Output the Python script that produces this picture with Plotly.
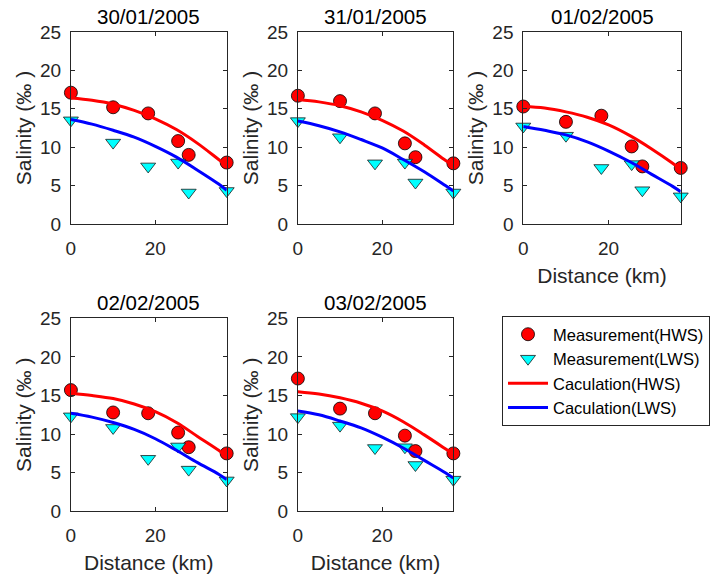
import plotly.graph_objects as go

# ---------------- data ----------------
dates = ["30/01/2005", "31/01/2005", "01/02/2005", "02/02/2005", "03/02/2005"]
x_meas = [0, 10.0, 18.3, 25.4, 27.9, 36.9]

hws_meas = [
    [17.1, 15.2, 14.4, 10.8, 9.0, 8.0],
    [16.7, 16.0, 14.4, 10.5, 8.7, 7.9],
    [15.3, 13.3, 14.1, 10.1, 7.5, 7.3],
    [15.7, 12.8, 12.7, 10.2, 8.3, 7.5],
    [17.2, 13.3, 12.7, 9.8, 7.8, 7.5],
]
lws_meas = [
    [13.5, 10.6, 7.5, 8.0, 4.1, 4.3],
    [13.4, 11.3, 7.9, 8.0, 5.4, 4.1],
    [12.7, 11.5, 7.3, 7.8, 4.4, 3.6],
    [12.3, 10.8, 6.8, 8.4, 5.4, 4.0],
    [12.2, 11.1, 8.2, 8.3, 6.0, 4.1],
]

x_calc = [0, 5, 10, 15, 20, 25, 30, 35, 36.9]
hws_calc = [
    [16.4, 16.1, 15.6, 14.8, 13.7, 12.3, 10.5, 8.4, 7.6],
    [16.2, 15.9, 15.4, 14.6, 13.5, 12.1, 10.3, 8.3, 7.6],
    [15.3, 15.1, 14.6, 13.9, 12.9, 11.5, 9.8, 7.9, 7.1],
    [15.3, 15.0, 14.6, 13.9, 12.9, 11.5, 9.7, 7.9, 7.1],
    [15.5, 15.2, 14.7, 14.0, 13.0, 11.6, 9.9, 8.1, 7.4],
]
lws_calc = [
    [13.6, 13.0, 12.2, 11.3, 10.1, 8.7, 7.0, 5.2, 4.4],
    [13.4, 12.8, 12.0, 11.0, 9.9, 8.4, 6.8, 5.0, 4.3],
    [12.7, 12.2, 11.6, 10.7, 9.5, 8.1, 6.5, 4.9, 4.2],
    [12.7, 12.2, 11.5, 10.6, 9.4, 7.9, 6.3, 4.8, 4.1],
    [13.0, 12.5, 11.7, 10.8, 9.6, 8.2, 6.6, 5.0, 4.3],
]

x_ticks = [0, 20]
y_ticks = [0, 5, 10, 15, 20, 25]
x_range = [0, 36.9]
y_range = [0, 25]
names = ["Measurement(HWS)", "Measurement(LWS)", "Caculation(HWS)", "Caculation(LWS)"]
show_xlabel = [False, False, True, True, True]

# ---------------- layout geometry (page pixels) ----------------
W, H = 710, 574
OFF = 0  # body margin removed by post_script
boxes = [  # left, right, top, bottom (page pixels)
    (71, 227, 32, 224),
    (298.3, 454, 32, 224),
    (524, 681.7, 32, 224),
    (71, 227, 318.3, 511.3),
    (298.3, 454, 318.3, 511.3),
]


def px(v):
    return (v - OFF) / W


def py(v):
    return 1 - (v - OFF) / H


FONT = "Liberation Sans, Arial, Helvetica, sans-serif"
TXT = "#262626"

fig = go.Figure()
layout = dict(
    width=W, height=H,
    margin=dict(l=0, r=0, t=0, b=0),
    paper_bgcolor="white", plot_bgcolor="white",
    font=dict(family=FONT, color=TXT, size=19),
    showlegend=True,
    legend=dict(
        x=px(502.7), y=py(316), xanchor="left", yanchor="top",
        bordercolor=TXT, borderwidth=1, bgcolor="white",
        font=dict(size=16.5, color="black", family=FONT),
        itemwidth=40, tracegroupgap=0,
    ),
    annotations=[],
)

for i in range(5):
    xa = "x" if i == 0 else f"x{i+1}"
    ya = "y" if i == 0 else f"y{i+1}"
    l, r, t, b = boxes[i]
    fig.add_trace(go.Scatter(
        x=x_meas, y=hws_meas[i], mode="markers", name=names[0],
        legendgroup="a", showlegend=(i == 0), cliponaxis=False,
        marker=dict(symbol="circle", size=13, color="#FF0000",
                    line=dict(color="black", width=0.8)),
        xaxis=xa, yaxis=ya))
    fig.add_trace(go.Scatter(
        x=x_meas, y=lws_meas[i], mode="markers", name=names[1],
        legendgroup="b", showlegend=(i == 0), cliponaxis=False,
        marker=dict(symbol="triangle-down", size=13, color="#00FFFF",
                    line=dict(color="#1a1a1a", width=0.8)),
        xaxis=xa, yaxis=ya))
    fig.add_trace(go.Scatter(
        x=x_calc, y=hws_calc[i], mode="lines", name=names[2],
        legendgroup="c", showlegend=(i == 0), line_shape="spline",
        line=dict(color="#FF0000", width=3),
        xaxis=xa, yaxis=ya))
    fig.add_trace(go.Scatter(
        x=x_calc, y=lws_calc[i], mode="lines", name=names[3],
        legendgroup="d", showlegend=(i == 0), line_shape="spline",
        line=dict(color="#0000FF", width=3),
        xaxis=xa, yaxis=ya))

    axcommon = dict(showline=True, linecolor=TXT, linewidth=1, mirror="ticks",
                    ticks="inside", ticklen=4, tickcolor=TXT, tickwidth=1,
                    showgrid=False, zeroline=False, automargin=False,
                    tickfont=dict(size=19, color=TXT, family=FONT))
    xkey = "xaxis" if i == 0 else f"xaxis{i+1}"
    ykey = "yaxis" if i == 0 else f"yaxis{i+1}"
    xdict = dict(axcommon, domain=[px(l), px(r)], range=x_range,
                 tickvals=x_ticks, anchor=ya, ticklabelstandoff=7)
    if show_xlabel[i]:
        xdict["title"] = dict(text="Distance (km)", font=dict(size=21, color=TXT, family=FONT),
                              standoff=10)
    ydict = dict(axcommon, domain=[py(b), py(t)], range=y_range,
                 tickvals=y_ticks, anchor=xa, ticklabelstandoff=5,
                 title=dict(text="Salinity (‰ )", font=dict(size=21, color=TXT, family=FONT),
                            standoff=2))
    layout[xkey] = xdict
    layout[ykey] = ydict
    layout["annotations"].append(dict(
        text=dates[i], xref="paper", yref="paper",
        x=px((l + r) / 2), y=py(t - 15.5), xanchor="center", yanchor="middle",
        showarrow=False, font=dict(size=20.5, color="black", family=FONT)))

fig.update_layout(**layout)
fig.write_html("out.html",
               config={"displayModeBar": False},
               post_script="document.body.style.margin='0px';document.body.style.padding='0px';")
